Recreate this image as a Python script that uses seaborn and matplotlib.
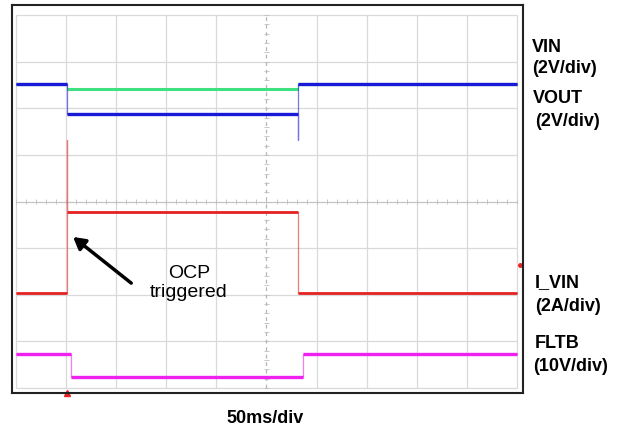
import numpy as np
import matplotlib
matplotlib.use('Agg')
import matplotlib.pyplot as plt
import seaborn as sns

# scope traces, x in divisions (50ms/div), y in divisions from bottom of screen
vin_t = [0, 1.02, 1.02, 5.63, 5.63, 10]
vin_v = [6.52, 6.52, 6.42, 6.42, 6.52, 6.52]

vout_t = [0, 1.02, 1.02, 5.63, 5.63, 5.63, 10]
vout_v = [6.52, 6.52, 5.88, 5.88, 5.32, 6.52, 6.52]

ivin_t = [0, 1.01, 1.01, 1.01, 5.62, 5.62, 10]
ivin_v = [2.04, 2.04, 5.32, 3.78, 3.78, 2.04, 2.04]

fltb_t = [0, 1.10, 1.10, 5.73, 5.73, 10]
fltb_v = [0.73, 0.73, 0.24, 0.24, 0.73, 0.73]

labels = ['VIN', '(2V/div)', 'VOUT', '(2V/div)', 'I_VIN', '(2A/div)', 'FLTB', '(10V/div)']
label_pos = [(532, 52), (532, 73), (533, 103), (535, 126),
             (535, 287), (535, 311), (535, 348), (533, 371)]

W, H = 624, 428


def draw_trace(ax, t, v, color, lw):
    # thin edges like the scope capture, thick flat levels
    sns.lineplot(x=t, y=v, color=color, lw=0.9, alpha=0.6,
                 estimator=None, sort=False, ax=ax, legend=False)
    for i in range(len(t) - 1):
        if v[i] == v[i + 1]:
            sns.lineplot(x=t[i:i + 2], y=v[i:i + 2], color=color, lw=lw,
                         estimator=None, sort=False, ax=ax, legend=False,
                         solid_capstyle='butt')


sns.set_style('white')
plt.rcParams['font.family'] = ['Liberation Sans', 'DejaVu Sans']

fig = plt.figure(figsize=(W / 100, H / 100), dpi=100)
ax = fig.add_axes([12 / W, (H - 393) / H, (523 - 12) / W, (393 - 5) / H])
ax.set_xlim(-0.08, 10.12)
ax.set_ylim(-0.107, 8.215)
ax.set_xticks([])
ax.set_yticks([])
for s in ax.spines.values():
    s.set_color('#222222')
    s.set_linewidth(1.5)

# graticule
grid_c = '#d9d9d9'
ax.vlines([0, 1, 2, 3, 4, 6, 7, 8, 9, 10], 0, 8, color=grid_c, lw=0.9, zorder=0)
ax.hlines([0, 1, 2, 3, 5, 6, 7, 8], 0, 10, color=grid_c, lw=0.9, zorder=0)
ax.vlines(5, 0, 8, color='#b5b5b5', lw=0.9, linestyles=(0, (3, 3)), zorder=0)
ax.hlines(4, 0, 10, color='#c4c4c4', lw=0.9, zorder=0)
ax.vlines(np.arange(0, 10.01, 0.2), 3.95, 4.05, color='#c0c0c0', lw=0.6, zorder=0)
ax.hlines(np.arange(0, 8.01, 0.2), 4.95, 5.05, color='#c0c0c0', lw=0.6, zorder=0)

draw_trace(ax, vin_t, vin_v, '#3fe07f', 2.2)
draw_trace(ax, vout_t, vout_v, '#1a1ad6', 2.4)
draw_trace(ax, ivin_t, ivin_v, '#e52222', 2.0)
draw_trace(ax, fltb_t, fltb_v, '#f020f0', 2.4)

# trigger / channel markers
ax.plot(ivin_t[1], -0.1, marker='^', ms=4, color='#e52222', clip_on=False)
ax.plot(10.06, 2.64, marker='o', ms=2.5, color='#e52222', clip_on=False)

ax.annotate('', xy=(1.14, 3.24), xytext=(2.30, 2.25),
            arrowprops=dict(arrowstyle='-|>,head_length=0.7,head_width=0.4',
                            lw=2.5, color='black', shrinkA=0, shrinkB=0))
ax.text(3.45, 2.25, 'OCP\ntriggered', ha='center', va='center',
        fontsize=14, linespacing=1.2, color='black')

for txt, (px, py) in zip(labels, label_pos):
    fig.text(px / W, 1 - py / H, txt, ha='left', va='baseline',
             fontsize=13, fontweight='bold', color='black')

fig.text(265 / W, 1 - 423 / H, '50ms/div', ha='center', va='baseline',
         fontsize=13, fontweight='bold', color='black')

fig.savefig('out.png', dpi=100)
